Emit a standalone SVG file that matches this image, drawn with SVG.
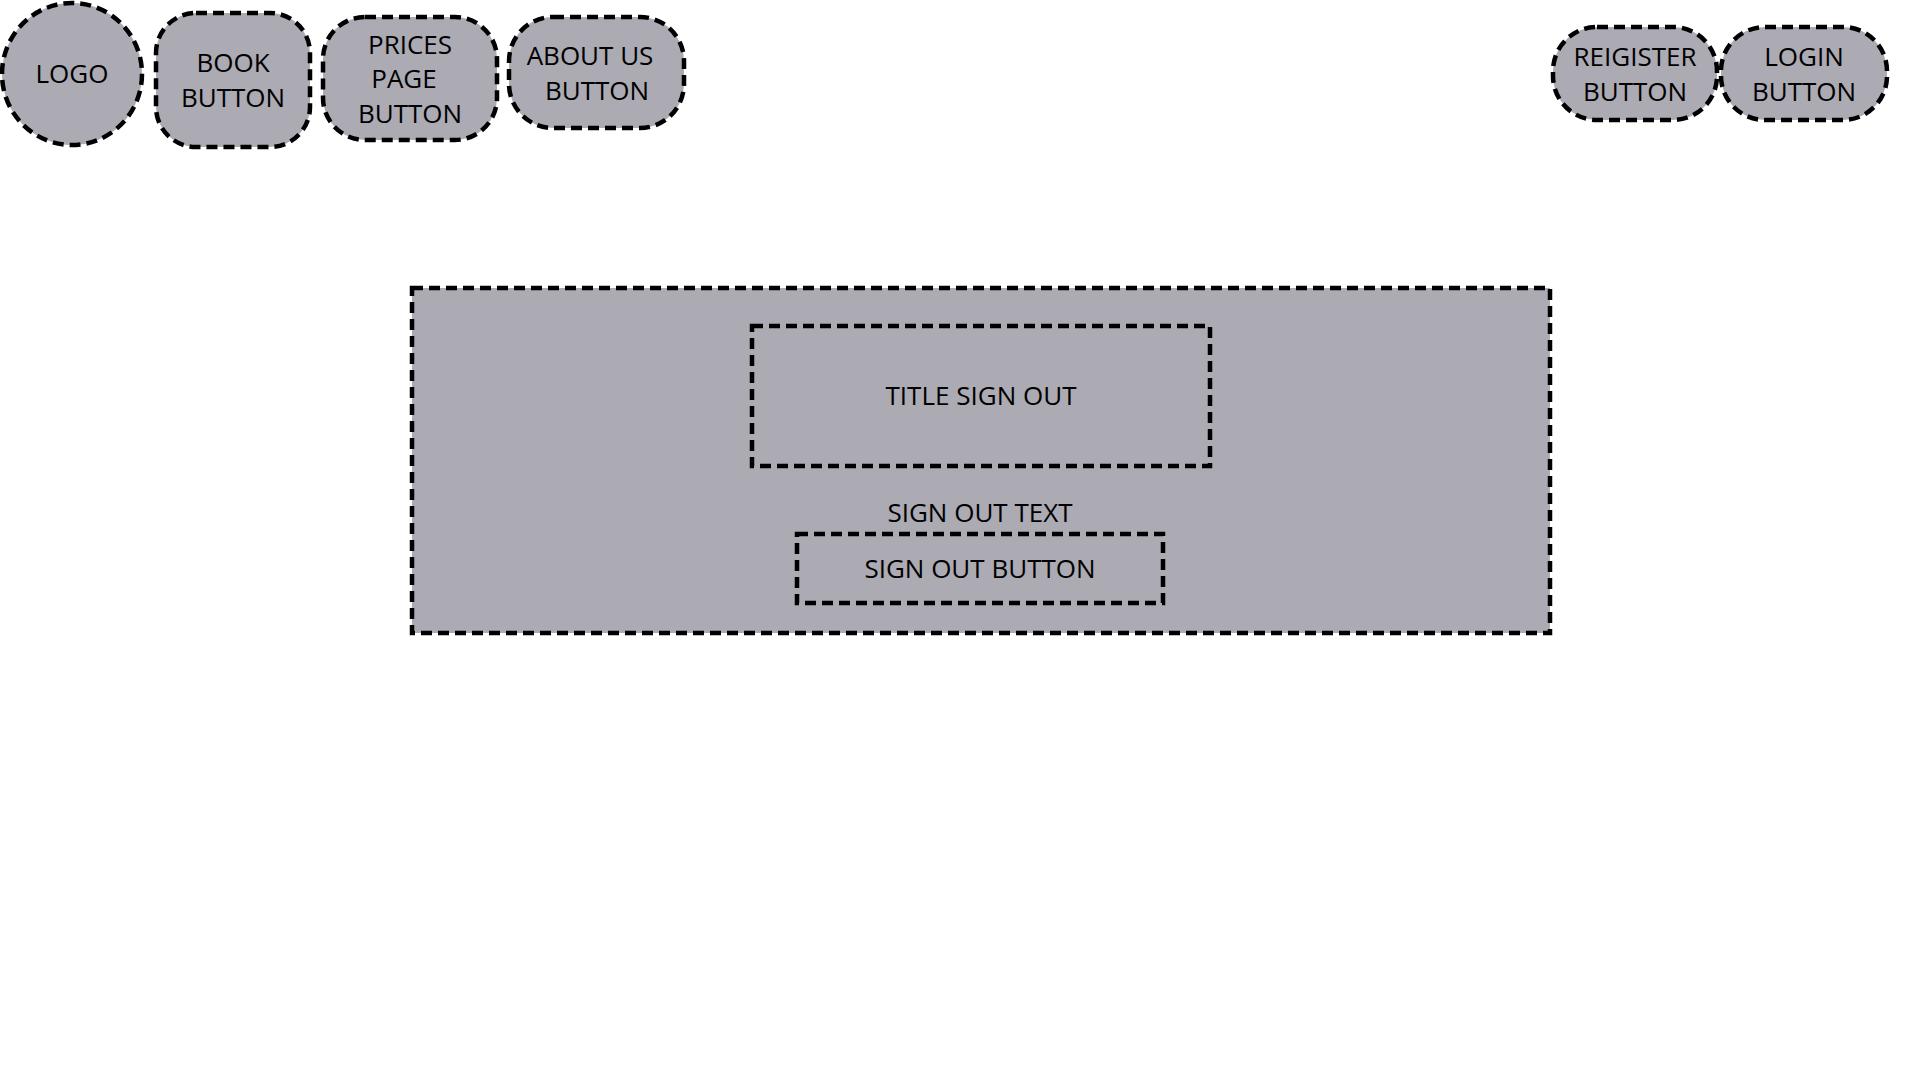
<svg xmlns="http://www.w3.org/2000/svg" width="1920" height="1080" viewBox="0 0 1920 1080">
<style>
.n{fill:#acaab3;stroke:#000;stroke-width:4.5;stroke-dasharray:11 6}
text{font-family:"Open Sans","Liberation Sans",sans-serif;font-size:26px;fill:#000;text-anchor:middle}
</style>
<rect width="1920" height="1080" fill="#fff"/>
<g id="logo"><ellipse class="n" cx="72" cy="74" rx="70" ry="71"/><text x="72" y="83">LOGO</text></g>
<g id="book"><rect class="n" x="156" y="13" width="154" height="134" rx="40"/><text x="233" y="72">BOOK</text><text x="233" y="107">BUTTON</text></g>
<g id="prices"><rect class="n" x="323" y="17" width="174" height="123" rx="42"/><text x="410" y="54">PRICES</text><text x="404" y="88">PAGE</text><text x="410" y="123">BUTTON</text></g>
<g id="about"><rect class="n" x="509" y="17" width="175" height="111" rx="44"/><text x="590" y="65">ABOUT US</text><text x="597" y="100">BUTTON</text></g>
<g id="register"><rect class="n" x="1553" y="27" width="164" height="93" rx="44"/><text x="1635" y="66">REIGISTER</text><text x="1635" y="101">BUTTON</text></g>
<g id="login"><rect class="n" x="1721" y="27" width="166" height="93" rx="44"/><text x="1804" y="66">LOGIN</text><text x="1804" y="101">BUTTON</text></g>
<g id="panel"><rect class="n" x="412" y="288" width="1138" height="345"/></g>
<g id="title"><rect class="n" x="752" y="326" width="458" height="140"/><text x="981" y="405">TITLE SIGN OUT</text></g>
<g id="signout-text"><text x="980" y="522">SIGN OUT TEXT</text></g>
<g id="signout-button"><rect class="n" x="797" y="534" width="366" height="69"/><text x="980" y="578">SIGN OUT BUTTON</text></g>
<g id="connectors"/>
</svg>
